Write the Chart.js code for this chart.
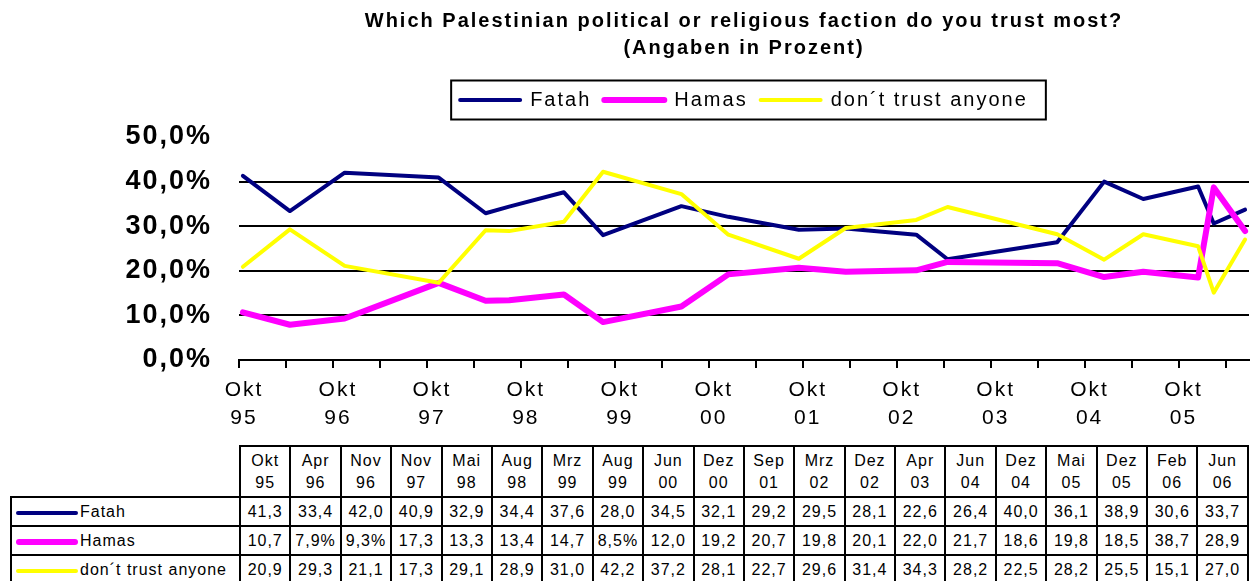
<!DOCTYPE html>
<html>
<head>
<meta charset="utf-8">
<script src="https://cdn.jsdelivr.net/npm/chart.js"></script>
<style>
html,body{margin:0;padding:0;background:#fff;width:1254px;height:581px;overflow:hidden;}
#wrap{position:relative;width:1254px;height:581px;}
#chart{position:absolute;left:0;top:0;width:1254px;height:446px;}
#tbl{position:absolute;left:10px;top:445px;border-collapse:collapse;table-layout:fixed;width:1237px;
  font-family:'Liberation Sans',Arial,sans-serif;font-size:16px;letter-spacing:1px;color:#000;background:#fff;}
#tbl td,#tbl th{border:2px solid #000;padding:0;text-align:center;font-weight:normal;white-space:nowrap;overflow:hidden;}
#tbl tr.hdr th{height:49px;line-height:21.7px;}
#tbl tr.row td{height:27px;line-height:27px;}
#tbl td.blank{border:none;}
#tbl td.key{text-align:left;}
.sw{display:inline-block;width:62px;border-radius:3px;vertical-align:middle;margin:0 2px 0 4px;}
</style>
</head>
<body>
<div id="wrap">
<canvas id="chart" width="1254" height="446"></canvas>
<table id="tbl"></table>
</div>
<script>
// ---- data ----
const titleLines = ['Which Palestinian political or religious faction do you trust most?', '(Angaben in Prozent)'];
const dateLabels = ['Okt 95','Apr 96','Nov 96','Nov 97','Mai 98','Aug 98','Mrz 99','Aug 99','Jun 00','Dez 00',
                    'Sep 01','Mrz 02','Dez 02','Apr 03','Jun 04','Dez 04','Mai 05','Dez 05','Feb 06','Jun 06'];
const fatah   = [41.3,33.4,42.0,40.9,32.9,34.4,37.6,28.0,34.5,32.1,29.2,29.5,28.1,22.6,26.4,40.0,36.1,38.9,30.6,33.7];
const hamas   = [10.7,7.9,9.3,17.3,13.3,13.4,14.7,8.5,12.0,19.2,20.7,19.8,20.1,22.0,21.7,18.6,19.8,18.5,38.7,28.9];
const noTrust = [20.9,29.3,21.1,17.3,29.1,28.9,31.0,42.2,37.2,28.1,22.7,29.6,31.4,34.3,28.2,22.5,28.2,25.5,15.1,27.0];
const seriesNames = ['Fatah', 'Hamas', 'don\u00b4t trust anyone'];
const xTickLabels = ['Okt 95','Okt 96','Okt 97','Okt 98','Okt 99','Okt 00','Okt 01','Okt 02','Okt 03','Okt 04','Okt 05'];
const yTickLabels = ['0,0%','10,0%','20,0%','30,0%','40,0%','50,0%'];

// ---- helpers ----
const MONTHS = {Jan:1,Feb:2,Mrz:3,Apr:4,Mai:5,Jun:6,Jul:7,Aug:8,Sep:9,Okt:10,Nov:11,Dez:12};
function monthOffset(label) {
  const parts = label.split(' ');
  const yy = parseInt(parts[1], 10);
  const year = yy < 50 ? 2000 + yy : 1900 + yy;
  return (year - 1995) * 12 + MONTHS[parts[0]] - 10;
}
const toPoints = vals => dateLabels.map((d, i) => ({x: monthOffset(d) + 0.5, y: vals[i]}));
const fmt = v => v.toFixed(1).replace('.', ',') + (v < 10 ? '%' : '');

Chart.defaults.font.family = "'Liberation Sans', Arial, sans-serif";
Chart.defaults.color = '#000';

const spacing = {
  id: 'spacing',
  beforeUpdate(c) { c.ctx.letterSpacing = '2px'; },
  beforeDraw(c) { c.ctx.letterSpacing = '2px'; }
};
const legendBox = {
  id: 'legendBox',
  afterDraw(c) {
    const hb = c.legend && c.legend.legendHitBoxes;
    if (!hb || !hb.length) return;
    const first = hb[0], last = hb[hb.length - 1];
    const l = first.left - 9, r = last.left + last.width + 18;
    const cy = first.top + first.height / 2;
    const ctx = c.ctx;
    ctx.save();
    ctx.lineWidth = 2;
    ctx.strokeStyle = '#000';
    ctx.strokeRect(l, cy - 19.5, r - l, 39);
    ctx.restore();
  }
};

new Chart(document.getElementById('chart'), {
  type: 'line',
  data: {
    datasets: [
      {label: seriesNames[0], data: toPoints(fatah), borderColor: '#000080', backgroundColor: '#000080',
       borderWidth: 4, order: 3},
      {label: seriesNames[1], data: toPoints(hamas), borderColor: '#FF00FF', backgroundColor: '#FF00FF',
       borderWidth: 6, order: 2},
      {label: seriesNames[2], data: toPoints(noTrust), borderColor: '#FFFF00', backgroundColor: '#FFFF00',
       borderWidth: 4, order: 1}
    ]
  },
  options: {
    responsive: false,
    animation: false,
    events: [],
    layout: {autoPadding: false, padding: {top: 0, left: 0, right: 5, bottom: 0}},
    elements: {
      point: {radius: 0},
      line: {tension: 0, borderJoinStyle: 'round', borderCapStyle: 'round'}
    },
    scales: {
      x: {
        type: 'linear',
        min: 0,
        max: 129,
        afterFit(s) { s.height = 86; },
        border: {display: true, color: '#000', width: 2},
        grid: {drawOnChartArea: false, drawTicks: true, tickLength: 8, color: '#000', lineWidth: 2},
        ticks: {
          stepSize: 6,
          includeBounds: false,
          autoSkip: false,
          maxRotation: 0,
          minRotation: 0,
          labelOffset: 5,
          padding: 9,
          color: '#000',
          font: {size: 21, lineHeight: 1.3},
          callback(value) {
            const lab = xTickLabels.find(l => monthOffset(l) === value);
            return lab ? lab.split(' ') : '';
          }
        }
      },
      y: {
        min: 0,
        max: 50,
        afterFit(s) { s.width = 239; },
        border: {display: false},
        grid: {
          drawTicks: false,
          lineWidth: 2,
          color: ctx => (ctx.tick && ctx.tick.value > 0 && ctx.tick.value < 50) ? '#000' : 'rgba(0,0,0,0)'
        },
        ticks: {
          stepSize: 10,
          padding: 27,
          color: '#000',
          font: {size: 27, weight: 'bold'},
          callback(value) {
            const lab = yTickLabels.find(l => parseFloat(l.replace(',', '.')) === value);
            return lab === undefined ? '' : lab;
          }
        }
      }
    },
    plugins: {
      tooltip: {enabled: false},
      title: {
        display: true,
        text: titleLines,
        fullSize: false,
        color: '#000',
        font: {size: 20, weight: 'bold', lineHeight: 1.35},
        padding: {top: 7.5, bottom: 15.5}
      },
      subtitle: {
        display: true,
        text: '',
        fullSize: false,
        weight: 500,
        position: 'top',
        font: {size: 10, lineHeight: 1},
        padding: {top: 7, bottom: 0}
      },
      legend: {
        display: true,
        position: 'top',
        fullSize: false,
        labels: {
          color: '#000',
          font: {size: 20},
          usePointStyle: true,
          pointStyleWidth: 60,
          padding: 13,
          generateLabels: chart => chart.data.datasets.map((ds, i) => ({
            text: ds.label,
            fillStyle: ds.borderColor,
            strokeStyle: ds.borderColor,
            lineWidth: ds.borderWidth,
            lineCap: 'round',
            pointStyle: 'line',
            hidden: false,
            fontColor: '#000',
            datasetIndex: i
          }))
        }
      }
    }
  },
  plugins: [spacing, legendBox]
});

// ---- data table ----
const swatch = [['#000080', 4], ['#FF00FF', 6], ['#FFFF00', 4]];
const seriesVals = [fatah, hamas, noTrust];
let html = '<colgroup><col style="width:229px">' + dateLabels.map(() => '<col style="width:50.4px">').join('') + '</colgroup>';
html += '<tr class="hdr"><td class="blank"></td>' + dateLabels.map(d => '<th>' + d.split(' ').join('<br>') + '</th>').join('') + '</tr>';
seriesVals.forEach((vals, si) => {
  html += '<tr class="row"><td class="key"><span class="sw" style="background:' + swatch[si][0] +
          ';height:' + swatch[si][1] + 'px"></span>' + seriesNames[si] + '</td>' +
          vals.map(v => '<td>' + fmt(v) + '</td>').join('') + '</tr>';
});
document.getElementById('tbl').innerHTML = html;
</script>
</body>
</html>
